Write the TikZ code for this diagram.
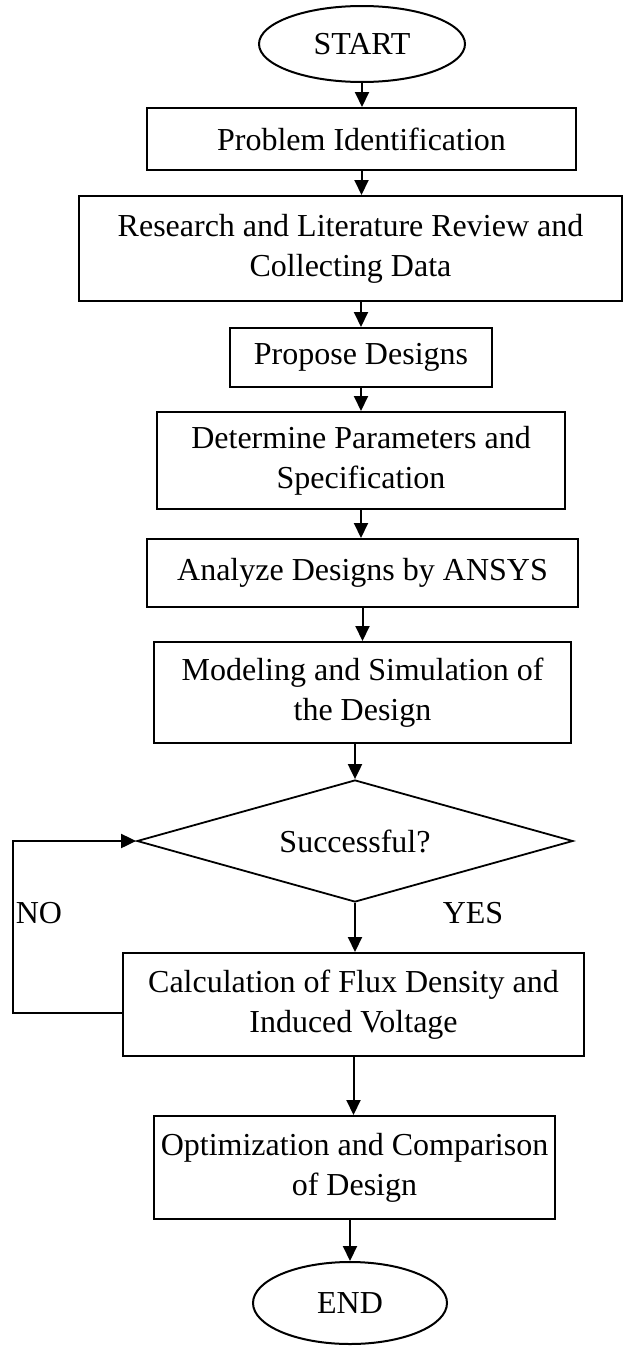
\documentclass[tikz,border=0pt]{standalone}
\usepackage{fontspec}
\setmainfont{Liberation Serif}
\usetikzlibrary{shapes.geometric,arrows.meta}
\begin{document}
\begin{tikzpicture}[x=1pt,y=-1pt,
  every node/.style={font=\fontsize{32}{40}\selectfont},
  box/.style={draw,line width=2pt,align=center,inner sep=0pt},
  oval/.style={draw,ellipse,line width=2pt,inner sep=0pt},
  decision/.style={draw,diamond,aspect=3.5,line width=1.8pt,inner sep=0pt},
  arr/.style={line width=2pt,-{Triangle[length=15pt,width=14pt]}},
  lbl/.style={inner sep=0pt}]
\useasboundingbox (0,0) rectangle (624,1349);
\node[oval,minimum width=206pt,minimum height=76pt] (start) at (362,44) {START};
\node[box,minimum width=429pt,minimum height=62pt] (prob) at (361.5,139) {Problem Identification};
\node[box,minimum width=543pt,minimum height=105pt] (res) at (350.5,248.5) {Research and Literature Review and\\Collecting Data};
\node[box,minimum width=262pt,minimum height=59pt] (prop) at (361,357.5) {Propose Designs};
\node[box,minimum width=408pt,minimum height=97pt] (det) at (361,460.5) {Determine Parameters and\\Specification};
\node[box,minimum width=431pt,minimum height=68pt] (ana) at (362.5,573) {Analyze Designs by ANSYS};
\node[box,minimum width=417pt,minimum height=101pt] (mod) at (362.5,692.5) {Modeling and Simulation of\\the Design};
\node[decision,minimum width=436pt,minimum height=122pt] (dec) at (355,841) {Successful?};
\node[box,minimum width=461pt,minimum height=103pt] (calc) at (353.5,1004.5) {Calculation of Flux Density and\\Induced Voltage};
\node[box,minimum width=401pt,minimum height=103pt] (opt) at (354.5,1167.5) {Optimization and Comparison\\of Design};
\node[oval,minimum width=194pt,minimum height=82pt] (end) at (350,1303) {END};
\node[lbl] (yes) at (473,913) {YES};
\node[lbl] (no) at (39,913) {NO};
\coordinate (lp) at (13,1013);
\draw[arr] (start.south) -- (start.south |- prob.north);
\draw[arr] (prob.south) -- (prob.south |- res.north);
\draw[arr] (prop.north |- res.south) -- (prop.north);
\draw[arr] (prop.south) -- (prop.south |- det.north);
\draw[arr] (det.south) -- (det.south |- ana.north);
\draw[arr] (ana.south) -- (ana.south |- mod.north);
\draw[arr] (dec.north |- mod.south) -- (dec.north);
\draw[arr] (dec.south) -- (dec.south |- calc.north);
\draw[arr] (calc.south) -- (calc.south |- opt.north);
\draw[arr] (end.north |- opt.south) -- (end.north);
\draw[arr] ([yshift=-8pt]calc.west) -| (lp |- dec.west) -- (dec.west);
\end{tikzpicture}
\end{document}
